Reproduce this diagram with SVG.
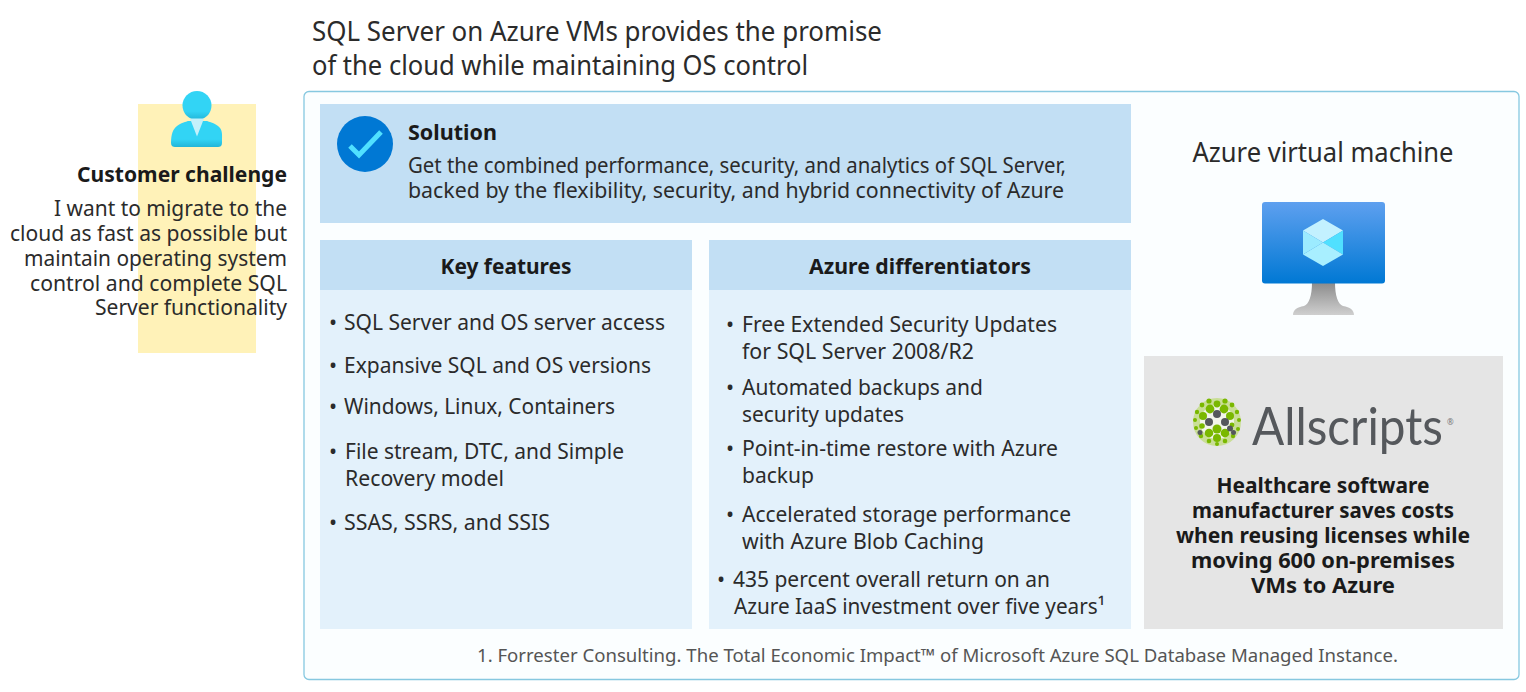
<svg xmlns="http://www.w3.org/2000/svg" width="1526" height="692" viewBox="0 0 1526 692">
<style>
text{font-family:"Noto Sans","Open Sans","Liberation Sans",sans-serif;fill:#2b2b2b;font-size:21.5px}
.b{font-weight:700;fill:#1a1a1a}
.h{fill:#c2dff4}
.p{fill:#e3f1fb}
.e{text-anchor:end}
.m{text-anchor:middle}
</style>
<defs>
<linearGradient id="g1" x1="0" y1="0" x2="0" y2="1"><stop offset="0" stop-color="#32d4f5"/><stop offset="0.7" stop-color="#32d4f5"/><stop offset="1" stop-color="#22b5d8"/></linearGradient>
<linearGradient id="g2" x1="0" y1="0" x2="0" y2="1"><stop offset="0" stop-color="#5ea0ef"/><stop offset="1" stop-color="#0078d4"/></linearGradient>
<linearGradient id="g3" x1="0" y1="0" x2="0" y2="1"><stop offset="0" stop-color="#8a8a8a"/><stop offset="1" stop-color="#cfcfcf"/></linearGradient>
</defs>
<rect width="1526" height="692" fill="#fff"/>
<g id="title">
<text x="312" y="41" style="font-size:27px" textLength="570" lengthAdjust="spacingAndGlyphs">SQL Server on Azure VMs provides the promise</text>
<text x="312" y="75" style="font-size:27px" textLength="496" lengthAdjust="spacingAndGlyphs">of the cloud while maintaining OS control</text>
</g>
<g id="customer-challenge">
<rect x="138" y="104" width="118" height="249" fill="#fff2b8"/>
<path d="M171 143c0-9 2-14 6-17 5-4 9-4 11-5h19c2 1 6 1 11 5 5 4 4 8 4 17 0 3-2 4-4 4h-43c-2 0-4-1-4-4z" fill="url(#g1)"/>
<circle cx="197" cy="105.500" r="14.500" fill="url(#g1)"/>
<path d="M190 118.500h14l-7 18z" fill="#c3f1fb"/>
<text class="b e" x="287" y="182" textLength="210" lengthAdjust="spacingAndGlyphs">Customer challenge</text>
<text class="e" x="287" y="216" textLength="233" lengthAdjust="spacingAndGlyphs">I want to migrate to the</text>
<text class="e" x="287" y="241" textLength="277" lengthAdjust="spacingAndGlyphs">cloud as fast as possible but</text>
<text class="e" x="287" y="266" textLength="263" lengthAdjust="spacingAndGlyphs">maintain operating system</text>
<text class="e" x="287" y="291" textLength="257" lengthAdjust="spacingAndGlyphs">control and complete SQL</text>
<text class="e" x="287" y="315" textLength="192" lengthAdjust="spacingAndGlyphs">Server functionality</text>
</g>
<g id="container"><rect x="304" y="91.500" width="1215" height="588" rx="5" fill="#fbfeff" stroke="#86c8e0" stroke-width="1.300"/></g>
<g id="solution">
<rect class="h" x="320" y="104" width="811" height="119"/>
<circle cx="365" cy="144" r="28" fill="#0078d4"/>
<path d="M350 146l9 9 22-23" fill="none" stroke="#50e0ff" stroke-width="5"/>
<text class="b" x="408" y="140" textLength="89" lengthAdjust="spacingAndGlyphs">Solution</text>
<text x="408" y="173" textLength="658" lengthAdjust="spacingAndGlyphs">Get the combined performance, security, and analytics of SQL Server,</text>
<text x="408" y="198" textLength="656" lengthAdjust="spacingAndGlyphs">backed by the flexibility, security, and hybrid connectivity of Azure</text>
</g>
<g id="key-features">
<rect class="p" x="320" y="240" width="372" height="389"/>
<rect class="h" x="320" y="240" width="372" height="50"/>
<text class="b m" x="506" y="274" textLength="131" lengthAdjust="spacingAndGlyphs">Key features</text>
<text x="329" y="330">•</text><text x="344" y="330" textLength="321" lengthAdjust="spacingAndGlyphs">SQL Server and OS server access</text>
<text x="329" y="373">•</text><text x="344" y="373" textLength="307" lengthAdjust="spacingAndGlyphs">Expansive SQL and OS versions</text>
<text x="329" y="414">•</text><text x="344" y="414" textLength="271" lengthAdjust="spacingAndGlyphs">Windows, Linux, Containers</text>
<text x="329" y="459">•</text><text x="345" y="459" textLength="279" lengthAdjust="spacingAndGlyphs">File stream, DTC, and Simple</text>
<text x="345" y="486" textLength="159" lengthAdjust="spacingAndGlyphs">Recovery model</text>
<text x="329" y="530">•</text><text x="344" y="530" textLength="206" lengthAdjust="spacingAndGlyphs">SSAS, SSRS, and SSIS</text>
</g>
<g id="azure-differentiators">
<rect class="p" x="709" y="240" width="422" height="389"/>
<rect class="h" x="709" y="240" width="422" height="50"/>
<text class="b m" x="920" y="274" textLength="222" lengthAdjust="spacingAndGlyphs">Azure differentiators</text>
<text x="726" y="332">•</text><text x="742" y="332" textLength="315" lengthAdjust="spacingAndGlyphs">Free Extended Security Updates</text>
<text x="742" y="359" textLength="232" lengthAdjust="spacingAndGlyphs">for SQL Server 2008/R2</text>
<text x="726" y="395">•</text><text x="742" y="395" textLength="241" lengthAdjust="spacingAndGlyphs">Automated backups and</text>
<text x="742" y="422" textLength="162" lengthAdjust="spacingAndGlyphs">security updates</text>
<text x="726" y="456">•</text><text x="742" y="456" textLength="316" lengthAdjust="spacingAndGlyphs">Point-in-time restore with Azure</text>
<text x="742" y="483" textLength="72" lengthAdjust="spacingAndGlyphs">backup</text>
<text x="726" y="522">•</text><text x="742" y="522" textLength="329" lengthAdjust="spacingAndGlyphs">Accelerated storage performance</text>
<text x="742" y="549" textLength="242" lengthAdjust="spacingAndGlyphs">with Azure Blob Caching</text>
<text x="717" y="587">•</text><text x="733" y="587" textLength="317" lengthAdjust="spacingAndGlyphs">435 percent overall return on an</text>
<text x="734" y="614" textLength="371" lengthAdjust="spacingAndGlyphs">Azure IaaS investment over five years¹</text>
</g>
<g id="azure-vm">
<text class="m" x="1323" y="162" style="font-size:27px" textLength="261" lengthAdjust="spacingAndGlyphs">Azure virtual machine</text>
<path d="M1312 282h23c0 14 3 22 8 24 7 1 11 4 11 9h-61c0-5 4-8 11-9 5-2 8-10 8-24z" fill="url(#g3)"/>
<rect x="1262" y="202" width="123" height="81.500" rx="3" fill="url(#g2)"/>
<path d="M1323 219l20 11.500-20 12-20-12z" fill="#c3f1ff"/>
<path d="M1303 230.500l20 12-20 12z" fill="#9cebff"/>
<path d="M1343 230.500v24l-20-12z" fill="#50e0ff"/>
<path d="M1323 242.500l20 12-20 11.500-20-11.500z" fill="#a8efff"/>
</g>
<g id="allscripts">
<rect x="1144" y="356" width="359" height="273" fill="#e5e5e5"/>
<g id="allscripts-logo">
<circle cx="1217" cy="422" r="24" fill="#c9de96"/>
<circle cx="1217" cy="422" r="17" fill="#f2f5ea"/>
<g fill="#7ab800">
<circle cx="1210" cy="409" r="4.400"/><circle cx="1224" cy="409" r="4.400"/><circle cx="1217" cy="404" r="3.400"/><circle cx="1203" cy="416" r="4"/><circle cx="1230" cy="416" r="4"/>
<circle cx="1217" cy="429" r="4.500"/><circle cx="1209" cy="433" r="4.300"/><circle cx="1225" cy="433" r="4.300"/><circle cx="1217" cy="438" r="4"/><circle cx="1202" cy="426" r="2.800"/><circle cx="1232" cy="425" r="2.400"/>
<circle cx="1209" cy="401" r="2.600"/><circle cx="1225" cy="401" r="2.600"/><circle cx="1202" cy="405" r="2.400"/><circle cx="1232" cy="405" r="2.400"/><circle cx="1197" cy="412" r="2.200"/><circle cx="1237" cy="412" r="2.200"/><circle cx="1195" cy="420" r="2"/><circle cx="1239" cy="420" r="2"/>
<circle cx="1196" cy="428" r="2"/><circle cx="1238" cy="429" r="2"/><circle cx="1201" cy="436" r="2.200"/><circle cx="1233" cy="436" r="2.200"/><circle cx="1209" cy="441" r="2.300"/><circle cx="1225" cy="441" r="2.300"/><circle cx="1217" cy="444" r="2"/>
</g>
<g fill="#55585c"><circle cx="1217" cy="414" r="4"/><circle cx="1209" cy="422" r="4"/><circle cx="1225" cy="422" r="4"/><circle cx="1230" cy="428.500" r="3"/><circle cx="1200" cy="432.500" r="2.500"/><circle cx="1233.500" cy="432.500" r="2.500"/></g>
<text x="1252" y="445" style="font-size:52px;fill:#55585c;font-family:'Lato','Noto Sans',sans-serif" textLength="191" lengthAdjust="spacingAndGlyphs">Allscripts</text>
<text x="1447" y="425" style="font-size:8px;fill:#777">®</text>
</g>
<text class="b m" x="1323" y="493" textLength="213" lengthAdjust="spacingAndGlyphs">Healthcare software</text>
<text class="b m" x="1323" y="518" textLength="262" lengthAdjust="spacingAndGlyphs">manufacturer saves costs</text>
<text class="b m" x="1323" y="543" textLength="294" lengthAdjust="spacingAndGlyphs">when reusing licenses while</text>
<text class="b m" x="1323" y="568" textLength="264" lengthAdjust="spacingAndGlyphs">moving 600 on-premises</text>
<text class="b m" x="1323" y="593" textLength="144" lengthAdjust="spacingAndGlyphs">VMs to Azure</text>
</g>
<g id="footnote"><text x="477" y="662" style="font-size:18.500px;fill:#555" textLength="921" lengthAdjust="spacingAndGlyphs">1. Forrester Consulting. The Total Economic Impact™ of Microsoft Azure SQL Database Managed Instance.</text></g>
<g id="connectors"/>
</svg>
